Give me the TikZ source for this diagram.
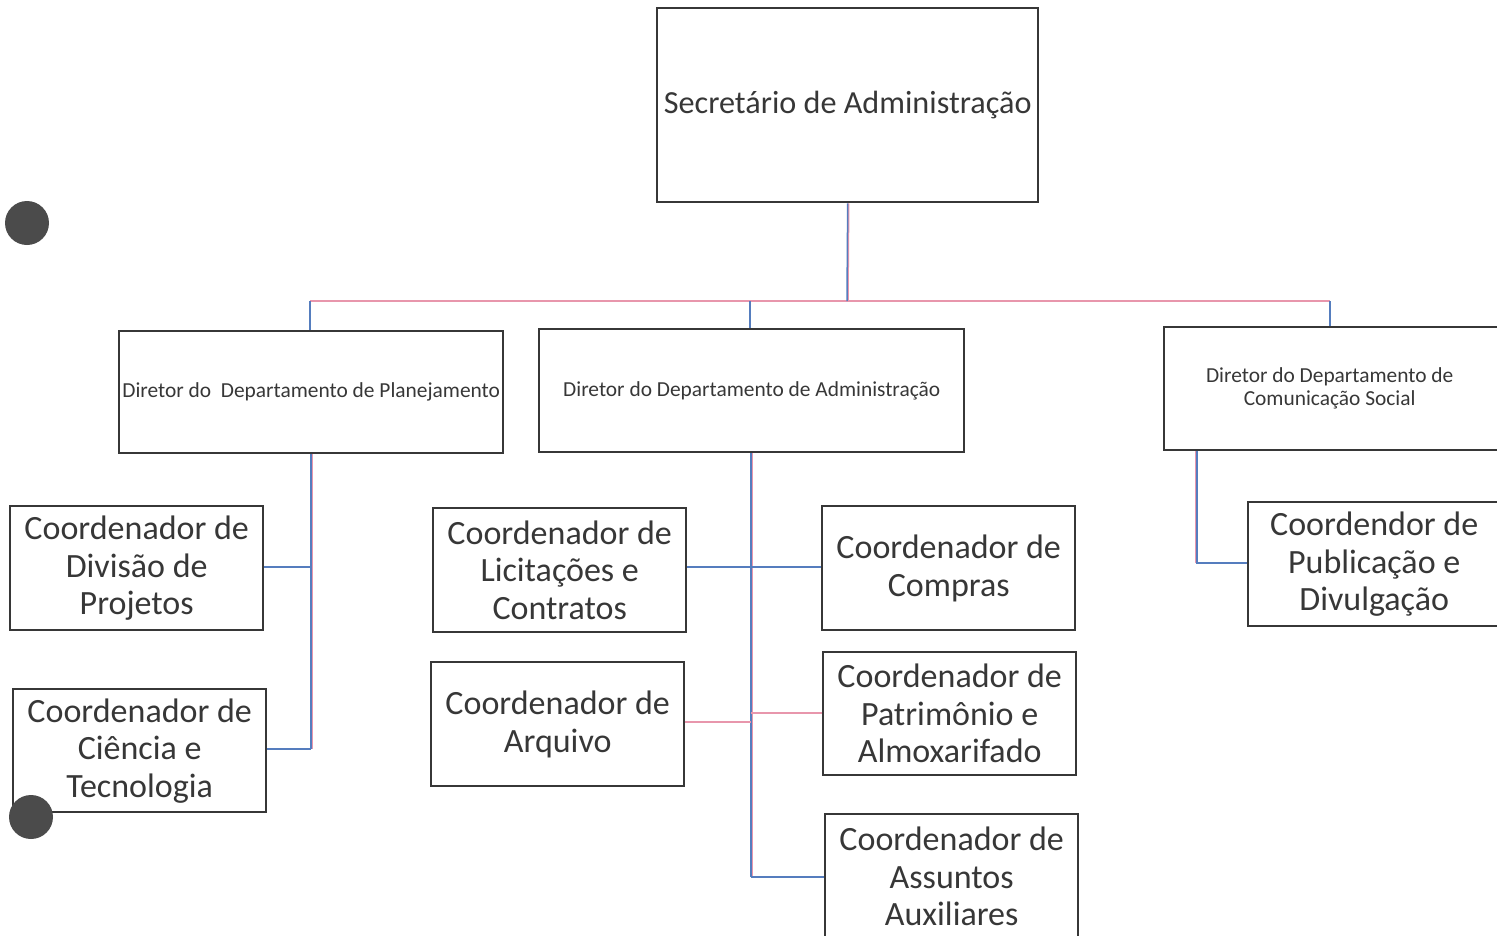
\documentclass[tikz,border=0pt]{standalone}
\usepackage{fontspec}
\setmainfont{Carlito}
\definecolor{boxc}{RGB}{55,55,55}
\definecolor{txtc}{RGB}{55,55,55}
\definecolor{lblue}{RGB}{85,125,190}
\definecolor{lpink}{RGB}{232,150,172}
\definecolor{dotc}{RGB}{75,75,75}
\begin{document}
\begin{tikzpicture}[x=1pt,y=-1pt,
  box/.style={draw=boxc,line width=2.4pt,anchor=north west,inner sep=0pt,text=txtc,align=center},
  big/.style={font=\fontsize{34}{37.5}\selectfont},
  mid/.style={font=\fontsize{21.4}{23}\selectfont},
  bl/.style={draw=lblue,line width=1.5pt},
  pk/.style={draw=lpink,line width=1.5pt},
  dot/.style={circle,fill=dotc,minimum size=44pt,inner sep=0pt}]
\useasboundingbox (0,0) rectangle (1497,935);
% boxes
\node[box,minimum width=381pt,minimum height=194pt,font=\fontsize{32.2}{36}\selectfont] (sec) at (656,7) {Secretário de Administração};
\node[box,mid,minimum width=384pt,minimum height=122pt] (dplan) at (118,330) {Diretor do\ \ Departamento de Planejamento};
\node[box,mid,minimum width=425pt,minimum height=123pt] (dadm) at (538,328) {Diretor do Departamento de Administração};
\node[box,mid,minimum width=345pt,minimum height=123pt] (dcom) at (1163,326) {\hspace*{-14pt}Diretor do Departamento de\\\hspace*{-14pt}Comunicação Social};
\node[box,big,minimum width=253pt,minimum height=124pt] (cdiv) at (9,505) {Coordenador de\\Divisão de\\Projetos};
\node[box,big,minimum width=253pt,minimum height=123pt] (ccie) at (12,688) {Coordenador de\\Ciência e\\Tecnologia};
\node[box,big,minimum width=253pt,minimum height=124pt] (clic) at (432,507) {Coordenador de\\Licitações e\\Contratos};
\node[box,big,minimum width=253pt,minimum height=124pt] (carq) at (430,661) {Coordenador de\\Arquivo};
\node[box,big,minimum width=253pt,minimum height=124pt] (ccom) at (821,505) {Coordenador de\\Compras};
\node[box,big,minimum width=253pt,minimum height=123pt] (cpat) at (822,651) {Coordenador de\\Patrimônio e\\Almoxarifado};
\node[box,big,minimum width=253pt,minimum height=125pt] (cass) at (824,813) {Coordenador de\\Assuntos\\Auxiliares};
\node[box,big,minimum width=260pt,minimum height=124pt] (cpub) at (1247,501) {\hspace*{-8pt}Coordendor de\\\hspace*{-8pt}Publicação e\\\hspace*{-8pt}Divulgação};
% coordinates
\coordinate (top) at (847,301);
\coordinate (hl) at (310,301);
\coordinate (hm) at (750,301);
\coordinate (hr) at (1330,301);
\coordinate (p1) at (311,567);
\coordinate (p2) at (311,749);
\coordinate (a1) at (751,567);
\coordinate (a2) at (751,722);
\coordinate (a3) at (751,713);
\coordinate (a4) at (751,877);
\coordinate (c1) at (1197,563);
% connectors
\draw[pk] (hl) -- (hr);
\draw[pk] ([xshift=1pt]sec.south) -- ([xshift=1pt]top);
\draw[bl] (sec.south) -- (top);
\draw[bl] (hl) -- (hl |- dplan.north);
\draw[bl] (hm) -- (hm |- dadm.north);
\draw[bl] (hr) -- (hr |- dcom.north);
\draw[pk] ([xshift=1pt]p1 |- dplan.south) -- ([xshift=1pt]p2);
\draw[bl] (p1 |- dplan.south) -- (p2);
\draw[bl] (cdiv.east |- p1) -- (p1);
\draw[bl] (ccie.east |- p2) -- (p2);
\draw[pk] ([xshift=1pt]a1 |- dadm.south) -- ([xshift=1pt]a4);
\draw[bl] (a1 |- dadm.south) -- (a4);
\draw[bl] (clic.east |- a1) -- (ccom.west |- a1);
\draw[pk] (carq.east |- a2) -- (a2);
\draw[pk] (a3) -- (cpat.west |- a3);
\draw[bl] (a4) -- (cass.west |- a4);
\draw[pk] ([xshift=-1pt]c1 |- dcom.south) -- ([xshift=-1pt]c1);
\draw[bl] (c1 |- dcom.south) -- (c1) -- (cpub.west |- c1);
% scan marks
\node[dot] (d1) at (27,223) {};
\node[dot] (d2) at (31,817) {};
\end{tikzpicture}
\end{document}
